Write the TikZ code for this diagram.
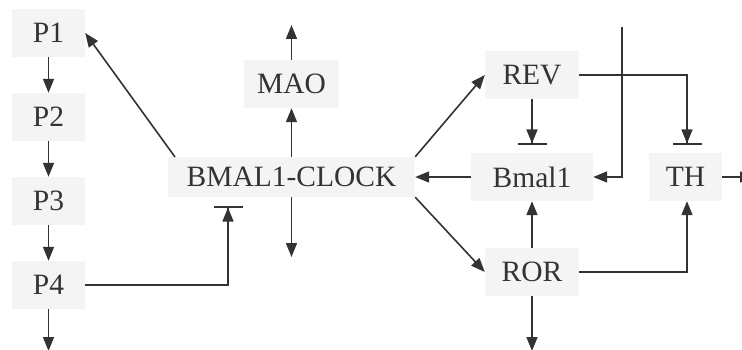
\documentclass[tikz,border=0pt]{standalone}
\usepackage{fontspec}
\setmainfont{Liberation Serif}
\usetikzlibrary{arrows.meta}
\definecolor{boxfill}{HTML}{F4F4F4}
\definecolor{ink}{HTML}{333333}
\tikzset{
  box/.style={fill=boxfill, draw=none, inner sep=0pt, text=ink, font=\fontsize{29.5}{30}\selectfont},
  conn/.style={draw=ink, line width=1.6pt, -{Triangle[length=14pt,width=11pt]}},
  inhib/.style={draw=ink, line width=1.6pt, -{Triangle[length=14pt,width=11pt,sep=0pt]Bar[width=29pt]}},
  plain/.style={draw=ink, line width=1.6pt}
}
\begin{document}
\begin{tikzpicture}[x=1pt,y=-1pt]
\useasboundingbox (0,0) rectangle (742,350);
% nodes
\node[box, minimum width=73pt, minimum height=48pt] (P1) at (48.5,33) {P1};
\node[box, minimum width=73pt, minimum height=48pt] (P2) at (48.5,117) {P2};
\node[box, minimum width=73pt, minimum height=48pt] (P3) at (48.5,201) {P3};
\node[box, minimum width=73pt, minimum height=48pt] (P4) at (48.5,285) {P4};
\node[box, minimum width=95pt, minimum height=48pt] (MAO) at (291.5,84) {MAO};
\node[box, minimum width=247pt, minimum height=40pt] (BC) at (291.5,177) {BMAL1-CLOCK};
\node[box, minimum width=94pt, minimum height=48pt] (REV) at (532,75) {REV};
\node[box, minimum width=122pt, minimum height=48pt] (Bmal1) at (532,177) {Bmal1};
\node[box, minimum width=94pt, minimum height=48pt] (ROR) at (532,272) {ROR};
\node[box, minimum width=73pt, minimum height=48pt] (TH) at (685.5,177) {TH};
% free ends and bends
\coordinate (P4end) at (48.5,351);
\coordinate (MAOend) at (291.5,25);
\coordinate (BCend) at (291.5,257);
\coordinate (RORend) at (532,351);
\coordinate (THend) at (754,177);
\coordinate (topin) at (622,27);
\coordinate (topbend) at (622,177);
\coordinate (P4bend) at (228,285);
\coordinate (BCbar) at (228,206);
\coordinate (REVbar) at (532,145);
\coordinate (REVbend) at (687,75);
\coordinate (THbar) at (687,145);
\coordinate (RORbend) at (687,272);
\coordinate (BCstart) at (175,157);
% connectors
\draw[conn] (P1) -- (P2);
\draw[conn] (P2) -- (P3);
\draw[conn] (P3) -- (P4);
\draw[conn] (P4) -- (P4end);
\draw[conn] (BCstart) -- (P1.east);
\draw[conn] (BC) -- (MAO);
\draw[conn] (MAO) -- (MAOend);
\draw[conn] (BC) -- (BCend);
\draw[inhib] (P4.east) -- (P4bend) -- (BCbar);
\draw[conn] (BC.north east) -- (REV.west);
\draw[conn] (BC.south east) -- (ROR.west);
\draw[conn] (Bmal1) -- (BC);
\draw[inhib] (REV) -- (REVbar);
\draw[inhib] (REV.east) -- (REVbend) -- (THbar);
\draw[conn] (topin) -- (topbend) -- (Bmal1.east);
\draw[conn] (ROR) -- (Bmal1);
\draw[conn] (ROR.east) -- (RORbend) -- (TH.south -| RORbend);
\draw[conn] (ROR) -- (RORend);
\draw[conn] (TH) -- (THend);
\end{tikzpicture}
\end{document}
